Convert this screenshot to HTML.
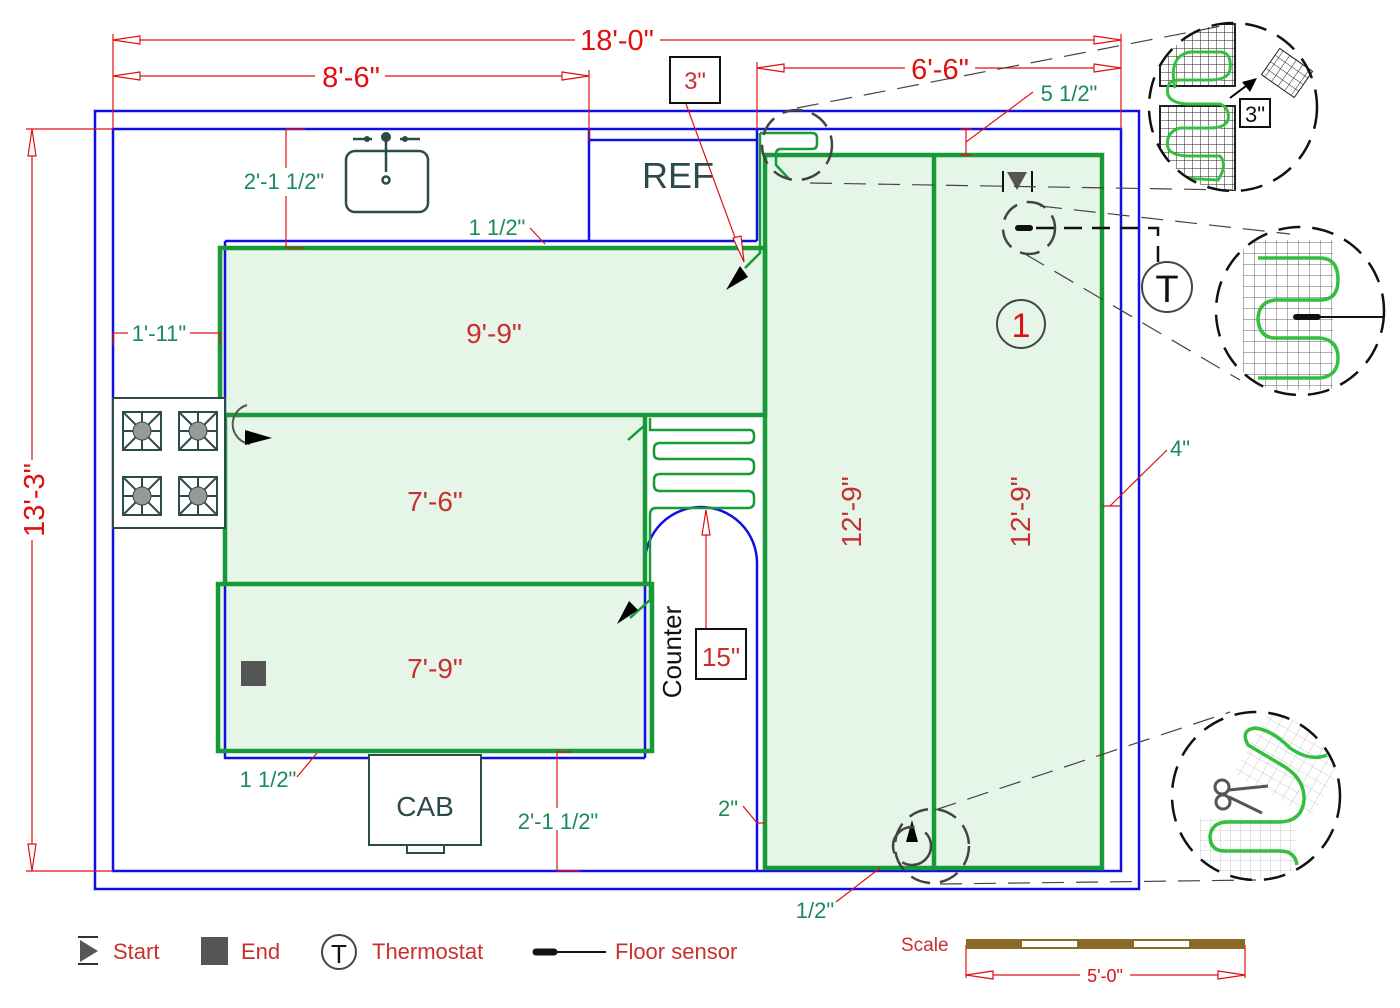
<!DOCTYPE html>
<html><head><meta charset="utf-8"><style>
html,body{margin:0;padding:0;background:#fff;}
svg{display:block;}
text{font-family:"Liberation Sans",Arial,sans-serif;}
</style></head><body>
<svg width="1400" height="1008" viewBox="0 0 1400 1008" xmlns="http://www.w3.org/2000/svg">
<defs>
<pattern id="g1" width="8" height="8" patternUnits="userSpaceOnUse"><path d="M0 0H8M0 0V8" stroke="#222" stroke-width="1" fill="none"/></pattern>
<pattern id="g2" width="11" height="11" patternUnits="userSpaceOnUse"><path d="M0 0H11M0 0V11" stroke="#666" stroke-width="1" fill="none"/></pattern>
<pattern id="g3" width="10" height="10" patternUnits="userSpaceOnUse"><path d="M0 0H10M0 0V10" stroke="#bbb" stroke-width="0.8" fill="none"/></pattern>
<clipPath id="c1"><circle cx="1233" cy="107" r="84"/></clipPath>
<clipPath id="c2"><circle cx="1300" cy="311" r="84"/></clipPath>
<clipPath id="c3"><circle cx="1256" cy="796" r="84"/></clipPath>
</defs>

<g fill="#e5f5e8">
<rect x="220" y="248" width="545" height="167"/>
<rect x="225" y="415" width="420" height="169"/>
<rect x="218" y="584" width="434" height="167"/>
<rect x="765" y="155" width="337" height="713"/>
</g>

<g fill="none" stroke="#1010e0" stroke-width="2.5">
<rect x="95" y="111" width="1044" height="778"/>
<rect x="113" y="129" width="1008" height="742"/>
<polyline points="589,129 589,241"/>
<polyline points="589,140 757,140"/>
<polyline points="757,129 757,241"/>
<polyline points="225,241 757,241"/>
<polyline points="225,241 225,758 645,758"/>
<path d="M645,758 V563 A56,56 0 0 1 757,563 V871"/>
</g>

<g fill="none" stroke="#179a37" stroke-width="4.5">
<rect x="220" y="248" width="545" height="167"/>
<polyline points="225,415 225,584"/>
<polyline points="645,415 645,584"/>
<rect x="218" y="584" width="434" height="167"/>
<rect x="765" y="155" width="337" height="713"/>
<line x1="934" y1="155" x2="934" y2="868"/>
</g>
<g fill="none" stroke="#179a37" stroke-width="2.5">
<path d="M628,440 L645,425 M650,418 V430 H750 Q754,430 754,436 V438 Q754,443 748,443 H660 Q654,443 654,449 V454 Q654,459 660,459 H748 Q754,459 754,465 V468 Q754,474 748,474 H660 Q654,474 654,480 V485 Q654,491 660,491 H748 Q754,491 754,497 V502 Q754,508 748,508 H656 Q650,508 650,515 V584"/>
<path d="M650,584 V600 L630,618"/>
<path d="M760,133 H812 Q817,133 817,138 V144 Q817,149 812,149 H781 Q776,149 776,154 V165 L790,180"/>
<path d="M760,133 V253 L745,268"/>
</g>

<g stroke="#e01010" stroke-width="1.2" fill="none">
<line x1="113" y1="40" x2="575" y2="40"/><line x1="660" y1="40" x2="1121" y2="40"/>
<line x1="113" y1="34" x2="113" y2="129"/><line x1="1121" y1="34" x2="1121" y2="129"/>
<line x1="113" y1="76" x2="315" y2="76"/><line x1="385" y1="76" x2="589" y2="76"/>
<line x1="589" y1="70" x2="589" y2="140"/>
<line x1="757" y1="68" x2="905" y2="68"/><line x1="975" y1="68" x2="1121" y2="68"/>
<line x1="757" y1="62" x2="757" y2="129"/>
<line x1="32" y1="129" x2="32" y2="460"/><line x1="32" y1="540" x2="32" y2="871"/>
<line x1="26" y1="129" x2="113" y2="129"/><line x1="26" y1="871" x2="113" y2="871"/>
<line x1="286" y1="129" x2="286" y2="168"/><line x1="286" y1="196" x2="286" y2="248"/>
<line x1="286" y1="129" x2="305" y2="129"/><line x1="286" y1="248" x2="305" y2="248"/>
<line x1="113" y1="333" x2="128" y2="333"/><line x1="190" y1="333" x2="220" y2="333"/>
<line x1="113" y1="333" x2="113" y2="345"/><line x1="220" y1="333" x2="220" y2="345"/>
<line x1="686" y1="104" x2="744" y2="262"/>
<line x1="966" y1="129" x2="966" y2="155"/><line x1="960" y1="129" x2="972" y2="129"/><line x1="960" y1="155" x2="972" y2="155"/>
<line x1="966" y1="142" x2="1033" y2="92"/>
<line x1="530" y1="228" x2="545" y2="244"/>
<line x1="1102" y1="506" x2="1121" y2="506"/><line x1="1110" y1="506" x2="1167" y2="450"/>
<line x1="706" y1="512" x2="706" y2="628"/>
<line x1="557" y1="751" x2="557" y2="808"/><line x1="557" y1="830" x2="557" y2="871"/>
<line x1="557" y1="752" x2="572" y2="752"/><line x1="557" y1="871" x2="580" y2="871"/>
<line x1="297" y1="777" x2="317" y2="753"/>
<line x1="743" y1="806" x2="757" y2="823"/><line x1="757" y1="823" x2="765" y2="823"/>
<line x1="836" y1="902" x2="880" y2="868"/>
<line x1="966" y1="945" x2="966" y2="978"/><line x1="1245" y1="945" x2="1245" y2="978"/>
<line x1="966" y1="975" x2="1080" y2="975"/><line x1="1130" y1="975" x2="1245" y2="975"/>
</g>
<g fill="#fff" stroke="#e01010" stroke-width="1.2">
<path d="M113,40 L140,36 V44Z"/><path d="M1121,40 L1094,36 V44Z"/>
<path d="M113,76 L140,72 V80Z"/><path d="M589,76 L562,72 V80Z"/>
<path d="M757,68 L784,64 V72Z"/><path d="M1121,68 L1094,64 V72Z"/>
<path d="M32,129 L28,156 H36Z"/><path d="M32,871 L28,844 H36Z"/>
<path d="M744,262 L733,238 L741,236Z"/>
<path d="M706,510 L702,535 H710Z"/>
<path d="M966,975 L993,971 V979Z"/><path d="M1245,975 L1218,971 V979Z"/>
</g>

<g fill="#e01010" font-size="29" text-anchor="middle">
<text x="617" y="50">18'-0"</text>
<text x="351" y="87">8'-6"</text>
<text x="940" y="79">6'-6"</text>
<text transform="translate(44,500) rotate(-90)">13'-3"</text>
</g>
<g fill="#c83030" font-size="28" text-anchor="middle">
<text x="494" y="343">9'-9"</text>
<text x="435" y="511">7'-6"</text>
<text x="435" y="678">7'-9"</text>
<text transform="translate(861,512) rotate(-90)">12'-9"</text>
<text transform="translate(1030,512) rotate(-90)">12'-9"</text>
</g>

<g fill="#1a8a5a" font-size="22" text-anchor="middle">
<text x="284" y="189">2'-1 1/2"</text>
<text x="497" y="235">1 1/2"</text>
<text x="159" y="341">1'-11"</text>
<text x="1069" y="101">5 1/2"</text>
<text x="1180" y="456">4"</text>
<text x="268" y="787">1 1/2"</text>
<text x="558" y="829">2'-1 1/2"</text>
<text x="728" y="816">2"</text>
<text x="815" y="918">1/2"</text>
</g>

<rect x="670" y="57" width="50" height="46" fill="#fff" stroke="#111" stroke-width="2"/>
<text x="695" y="89" font-size="24" fill="#c83030" text-anchor="middle">3"</text>
<rect x="696" y="629" width="50" height="50" fill="#fff" stroke="#111" stroke-width="2"/>
<text x="721" y="666" font-size="26" fill="#c83030" text-anchor="middle">15"</text>
<text x="678" y="188" font-size="36" fill="#2d4a4a" text-anchor="middle">REF</text>
<text transform="translate(681,652) rotate(-90)" font-size="26" fill="#111" text-anchor="middle">Counter</text>

<g stroke="#2d4a4a" stroke-width="2.5" fill="none">
<rect x="346" y="151" width="82" height="61" rx="9"/>
<line x1="386" y1="138" x2="386" y2="172"/>
<circle cx="386" cy="180" r="3.5"/>
<line x1="353" y1="139" x2="372" y2="139"/><line x1="400" y1="139" x2="420" y2="139"/>
</g>
<circle cx="386" cy="137" r="5" fill="#2d4a4a"/><circle cx="367" cy="139" r="3" fill="#2d4a4a"/><circle cx="405" cy="139" r="3" fill="#2d4a4a"/>

<rect x="113" y="398" width="112" height="130" fill="#fff" stroke="#2d4a4a" stroke-width="2"/>
<g stroke="#2d4a4a" stroke-width="2" fill="none">
<g id="bur"><rect x="123" y="412" width="38" height="38"/><path d="M123,412 L161,450 M161,412 L123,450 M142,412 V450 M123,431 H161"/></g>
<use href="#bur" x="56"/><use href="#bur" y="65"/><use href="#bur" x="56" y="65"/>
</g>
<g fill="#999" stroke="#2d4a4a" stroke-width="1"><circle cx="142" cy="431" r="9"/><circle cx="198" cy="431" r="9"/><circle cx="142" cy="496" r="9"/><circle cx="198" cy="496" r="9"/></g>

<rect x="369" y="755" width="112" height="90" fill="#fff" stroke="#2d4a4a" stroke-width="2"/>
<rect x="407" y="845" width="37" height="8" fill="#fff" stroke="#2d4a4a" stroke-width="2"/>
<text x="425" y="816" font-size="28" fill="#2d4a4a" text-anchor="middle">CAB</text>

<path d="M247,405 A20,20 0 0 0 250,444" fill="none" stroke="#555" stroke-width="2"/>
<path d="M245,430 L272,438 L245,445Z" fill="#000"/>
<path d="M726,290 L740,266 L748,277Z" fill="#000"/>
<path d="M617,624 L629,601 L638,610Z" fill="#000"/>
<path d="M906,842 L912,820 L918,842Z" fill="#000"/>
<rect x="241" y="661" width="25" height="25" fill="#555"/>
<g stroke="#111" stroke-width="2"><line x1="1003" y1="171" x2="1003" y2="192"/><line x1="1032" y1="171" x2="1032" y2="192"/></g>
<path d="M1007,172 L1027,172 L1017,190Z" fill="#555"/>
<circle cx="1021" cy="324" r="24" fill="none" stroke="#444" stroke-width="2"/>
<text x="1021" y="337" font-size="34" fill="#e01010" text-anchor="middle">1</text>
<circle cx="1167" cy="287" r="25" fill="#fff" stroke="#444" stroke-width="2"/>
<text x="1167" y="302" font-size="38" fill="#111" text-anchor="middle">T</text>
<path d="M1036,228 H1158 V262" fill="none" stroke="#111" stroke-width="2.5" stroke-dasharray="18,10"/>
<line x1="1018" y1="228" x2="1030" y2="228" stroke="#111" stroke-width="6" stroke-linecap="round"/>

<g fill="none" stroke="#444" stroke-width="2.5" stroke-dasharray="20,10">
<circle cx="797" cy="145" r="35"/>
<circle cx="1029" cy="228" r="26"/>
<circle cx="932" cy="846" r="37"/>
<circle cx="912" cy="846" r="19" stroke-dasharray="40,12"/>
</g>
<g fill="none" stroke="#444" stroke-width="1.2" stroke-dasharray="22,12">
<line x1="797" y1="108" x2="1232" y2="24"/>
<line x1="810" y1="183" x2="1232" y2="190"/>
<line x1="1040" y1="206" x2="1290" y2="234"/>
<line x1="1025" y1="254" x2="1240" y2="380"/>
<line x1="935" y1="810" x2="1230" y2="712"/>
<line x1="940" y1="884" x2="1256" y2="880"/>
</g>

<g clip-path="url(#c1)">
<rect x="1160" y="24" width="75" height="62" fill="url(#g1)" stroke="#222" stroke-width="2"/>
<rect x="1160" y="106" width="75" height="85" fill="url(#g1)" stroke="#222" stroke-width="2"/>
<path d="M1175,88 Q1168,56 1190,52 L1220,52 Q1232,52 1230,70 Q1228,80 1210,80 L1180,80 Q1165,80 1168,95 Q1172,104 1190,104 L1220,104 Q1230,108 1228,120 Q1225,128 1210,128 L1180,128 Q1165,132 1168,148 Q1172,156 1190,156 L1220,156 Q1228,165 1218,180 L1180,178" fill="none" stroke="#33c040" stroke-width="3"/>
</g>
<g transform="translate(1287,73) rotate(35)"><rect x="-20" y="-16" width="40" height="32" fill="url(#g1)" stroke="#222"/></g>
<line x1="1230" y1="98" x2="1246" y2="86" stroke="#000" stroke-width="2"/>
<path d="M1257,78 L1242,82 L1250,92Z" fill="#000"/>
<rect x="1240" y="99" width="30" height="28" fill="#fff" stroke="#111" stroke-width="2"/>
<text x="1255" y="122" font-size="22" fill="#111" text-anchor="middle">3"</text>
<circle cx="1233" cy="107" r="84" fill="none" stroke="#111" stroke-width="2.5" stroke-dasharray="22,12"/>

<g clip-path="url(#c2)">
<rect x="1243" y="240" width="90" height="150" fill="url(#g2)"/>
<path d="M1258,258 H1320 Q1338,258 1338,280 Q1338,300 1320,300 H1275 Q1258,302 1258,320 Q1260,338 1275,338 H1320 Q1338,340 1338,358 Q1338,376 1320,378 H1258" fill="none" stroke="#33c040" stroke-width="3.5"/>
</g>
<line x1="1297" y1="317" x2="1385" y2="317" stroke="#111" stroke-width="2"/>
<line x1="1296" y1="317" x2="1318" y2="317" stroke="#111" stroke-width="6" stroke-linecap="round"/>
<circle cx="1300" cy="311" r="84" fill="none" stroke="#111" stroke-width="2.5" stroke-dasharray="22,12"/>

<g clip-path="url(#c3)">
<g transform="translate(1290,765) rotate(30)"><rect x="-45" y="-45" width="90" height="80" fill="url(#g3)"/></g>
<rect x="1200" y="818" width="96" height="62" fill="url(#g3)"/>
</g>
<path d="M1297,865 Q1295,851 1280,851 H1225 Q1210,851 1210,836 Q1212,822 1228,822 H1278 Q1302,822 1304,800 Q1305,780 1285,767 Q1260,752 1248,745 Q1240,730 1255,728 Q1272,730 1290,748 Q1310,762 1327,755" fill="none" stroke="#33c040" stroke-width="3.5"/>
<g stroke="#555" stroke-width="3" fill="none"><circle cx="1222" cy="787" r="7"/><circle cx="1223" cy="802" r="7"/><line x1="1229" y1="790" x2="1268" y2="786"/><line x1="1229" y1="797" x2="1262" y2="813"/></g>
<circle cx="1256" cy="796" r="84" fill="none" stroke="#111" stroke-width="2.5" stroke-dasharray="22,12"/>

<g stroke="#333" stroke-width="2"><line x1="78" y1="937" x2="98" y2="937"/><line x1="78" y1="964" x2="98" y2="964"/></g>
<path d="M80,940 L98,951 L80,962Z" fill="#555"/>
<text x="113" y="959" font-size="22" fill="#c83030">Start</text>
<rect x="201" y="937" width="27" height="28" fill="#555"/>
<text x="241" y="959" font-size="22" fill="#c83030">End</text>
<circle cx="339" cy="952" r="17" fill="none" stroke="#444" stroke-width="2"/>
<text x="339" y="963" font-size="26" fill="#111" text-anchor="middle">T</text>
<text x="372" y="959" font-size="22" fill="#c83030">Thermostat</text>
<line x1="536" y1="952" x2="554" y2="952" stroke="#111" stroke-width="7" stroke-linecap="round"/>
<line x1="554" y1="952" x2="606" y2="952" stroke="#111" stroke-width="2"/>
<text x="615" y="959" font-size="22" fill="#c83030">Floor sensor</text>
<text x="901" y="951" font-size="19" fill="#c83030">Scale</text>
<rect x="966" y="939" width="279" height="10" fill="#8b6a25"/>
<rect x="1022" y="941" width="55" height="6" fill="#fff"/><rect x="1134" y="941" width="55" height="6" fill="#fff"/>
<text x="1105" y="982" font-size="18" fill="#e01010" text-anchor="middle">5'-0"</text>
</svg>
</body></html>
